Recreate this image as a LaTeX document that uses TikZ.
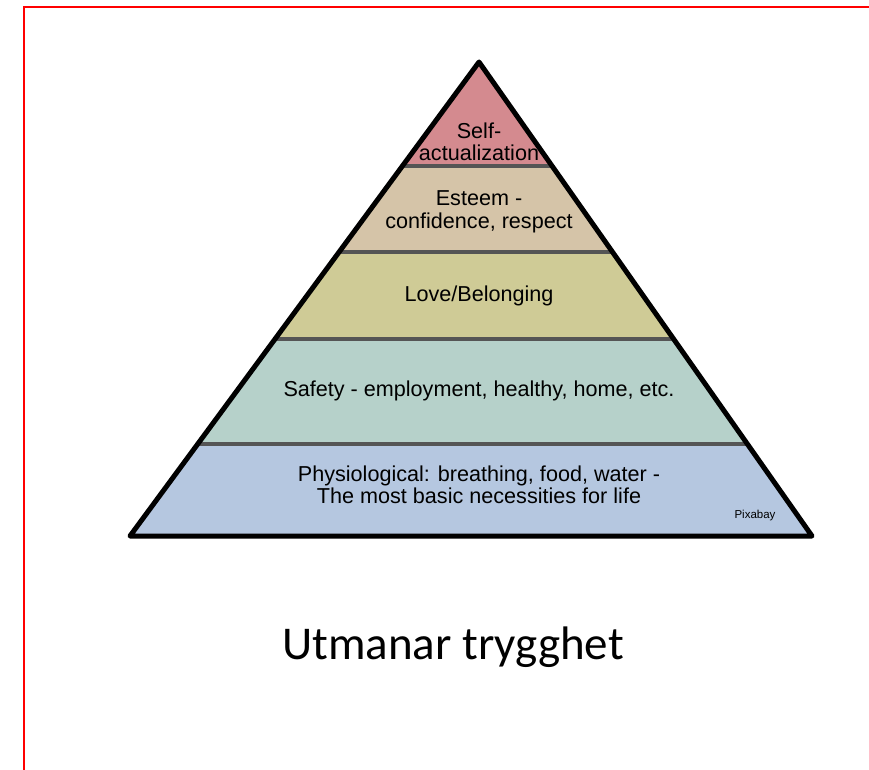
\documentclass[tikz,border=0pt]{standalone}
\usepackage{fontspec}
\setmainfont{Liberation Sans}
\newfontfamily\titlefont{Carlito}
\definecolor{cself}{RGB}{212,138,143}
\definecolor{cesteem}{RGB}{213,196,168}
\definecolor{clove}{RGB}{207,203,150}
\definecolor{csafety}{RGB}{182,209,202}
\definecolor{cphys}{RGB}{181,199,224}
\definecolor{csep}{RGB}{85,85,85}
\tikzset{
  lvl/.style={align=center, inner sep=0pt, font=\fontsize{21.6}{22.5}\selectfont, text=black},
  sepline/.style={draw=csep, line width=4.5pt},
  outline/.style={draw=black, line width=5pt, line join=round},
  frame/.style={draw=red, line width=2pt}
}
\begin{document}
\begin{tikzpicture}[x=1pt,y=-1pt]
\useasboundingbox (0,0) rectangle (869,770);
% red frame (partly cut off)
\draw[frame] (24,780) -- (24,7) -- (880,7);
% pyramid
\coordinate (apex) at (479,62);
\coordinate (bl) at (130,536);
\coordinate (br) at (812,536);
\begin{scope}
  \clip (apex) -- (br) -- (bl) -- cycle;
  \fill[cself]   (100,40)  rectangle (850,166);
  \fill[cesteem] (100,166) rectangle (850,252);
  \fill[clove]   (100,252) rectangle (850,339);
  \fill[csafety] (100,339) rectangle (850,444);
  \fill[cphys]   (100,444) rectangle (850,540);
  \draw[sepline] (100,166) -- (850,166);
  \draw[sepline] (100,252) -- (850,252);
  \draw[sepline] (100,339) -- (850,339);
  \draw[sepline] (100,444) -- (850,444);
\end{scope}
\draw[outline] (apex) -- (br) -- (bl) -- cycle;
% labels
\node[lvl] (self) at (479,142) {Self-\\actualization};
\node[lvl] (esteem) at (479,212) {Esteem -\\confidence, respect};
\node[lvl] (love) at (479,296) {Love/Belonging};
\node[lvl] (safety) at (479,391) {Safety - employment, healthy, home, etc.};
\node[lvl] (phys) at (479,485) {Physiological: breathing, food, water -\\The most basic necessities for life};
\node[inner sep=0pt, font=\fontsize{11.5}{12}\selectfont] (pixabay) at (755,516) {Pixabay};
\node[inner sep=0pt, font=\titlefont\fontsize{47}{50}\selectfont] (title) at (453,647) {Utmanar trygghet};
\end{tikzpicture}
\end{document}
